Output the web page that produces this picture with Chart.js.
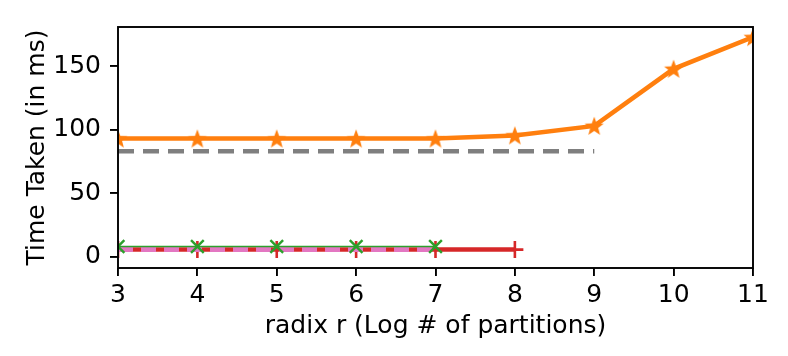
<!DOCTYPE html>
<html>
<head>
<meta charset="utf-8">
<script src="https://cdn.jsdelivr.net/npm/chart.js@4.4.0/dist/chart.umd.min.js"></script>
<style>
  html, body { margin: 0; padding: 0; background: #fff; }
  #wrap { width: 788px; height: 356px; }
</style>
</head>
<body>
<div id="wrap"><canvas id="chart"></canvas></div>
<script>
// данные
const radix = [3, 4, 5, 6, 7, 8, 9, 10, 11];
const orangeTimes = [93, 93, 93, 93, 93, 95.5, 103, 148, 173];
const grayTimes = [83, 83, 83, 83, 83, 83, 83];
const redTimes = [5.5, 5.5, 5.5, 5.5, 5.5, 5.5];
const pinkTimes = [5.5, 5.5, 5.5, 5.5, 5.5];
const greenTimes = [8, 8, 8, 8, 8];
const yTicks = [0, 50, 100, 150];
const xTicks = [3, 4, 5, 6, 7, 8, 9, 10, 11];

function points(values) {
    return values.map((v, i) => ({ x: radix[i], y: v }));
}

// заполненная пятиконечная звезда, как маркер '*' в matplotlib
function makeStar(color, r) {
    const c = document.createElement('canvas');
    const size = Math.ceil(r * 2 + 2);
    c.width = size;
    c.height = size;
    const g = c.getContext('2d');
    g.fillStyle = color;
    g.beginPath();
    for (let i = 0; i < 10; i++) {
        const rad = i % 2 === 0 ? r : r * 0.42;
        const a = -Math.PI / 2 + i * Math.PI / 5;
        const px = size / 2 + rad * Math.cos(a);
        const py = size / 2 + rad * Math.sin(a) + r * 0.08;
        if (i === 0) g.moveTo(px, py); else g.lineTo(px, py);
    }
    g.closePath();
    g.fill();
    return c;
}

const frame = {
    id: 'frame',
    afterDraw(chart) {
        const a = chart.chartArea;
        const ctx = chart.ctx;
        ctx.save();
        ctx.strokeStyle = '#000';
        ctx.lineWidth = 1.9;
        ctx.strokeRect(a.left, a.top, a.right - a.left, a.bottom - a.top);
        ctx.restore();
    }
};

const tickFont = { family: 'DejaVu Sans', size: 25 };
const star = makeStar('#ff7f0e', 10);

new Chart(document.getElementById('chart'), {
    type: 'line',
    data: {
        datasets: [
            {
                data: points(greenTimes),
                borderColor: '#2ca02c',
                borderWidth: 1.6,
                pointStyle: 'crossRot',
                pointRadius: 9,
                pointBorderColor: '#2ca02c',
                pointBorderWidth: 2.4,
                order: 0
            },
            {
                data: points(pinkTimes),
                borderColor: '#e377c2',
                borderWidth: 5,
                borderDash: [15, 8],
                pointRadius: 0,
                order: 1
            },
            {
                data: points(redTimes),
                borderColor: '#d62728',
                borderWidth: 4.5,
                pointStyle: 'cross',
                pointRadius: 8.5,
                pointBorderColor: '#d62728',
                pointBorderWidth: 2.6,
                order: 2
            },
            {
                data: points(grayTimes),
                borderColor: '#7f7f7f',
                borderWidth: 4.5,
                borderDash: [16, 9],
                pointRadius: 0,
                order: 3
            },
            {
                data: points(orangeTimes),
                borderColor: '#ff7f0e',
                borderWidth: 4.5,
                pointStyle: star,
                pointRadius: 10,
                order: 4
            }
        ]
    },
    options: {
        responsive: true,
        maintainAspectRatio: false,
        animation: false,
        events: [],
        layout: { padding: { top: 27, right: 35, left: 14, bottom: 15 } },
        plugins: { legend: { display: false }, tooltip: { enabled: false } },
        scales: {
            x: {
                type: 'linear',
                min: 3,
                max: 11,
                afterBuildTicks: s => { s.ticks = xTicks.map(v => ({ value: v })); },
                afterFit: s => { s.height = 73; },
                border: { display: false },
                grid: { drawOnChartArea: false, tickLength: 8, color: '#000', lineWidth: 1.9 },
                ticks: { font: tickFont, color: '#000', padding: 4, maxRotation: 0 },
                title: { display: true, text: 'radix r (Log # of partitions)', font: tickFont, color: '#000', padding: { top: 0, bottom: 0 } }
            },
            y: {
                min: -9,
                max: 181,
                afterBuildTicks: s => { s.ticks = yTicks.map(v => ({ value: v })); },
                afterFit: s => { s.width = 104; },
                border: { display: false },
                grid: { drawOnChartArea: false, tickLength: 8, color: '#000', lineWidth: 1.9 },
                ticks: { font: tickFont, color: '#000', padding: 9 },
                title: { display: true, text: 'Time Taken (in ms)', font: tickFont, color: '#000', padding: { top: 8, bottom: 0 } }
            }
        }
    },
    plugins: [frame]
});
</script>
</body>
</html>
